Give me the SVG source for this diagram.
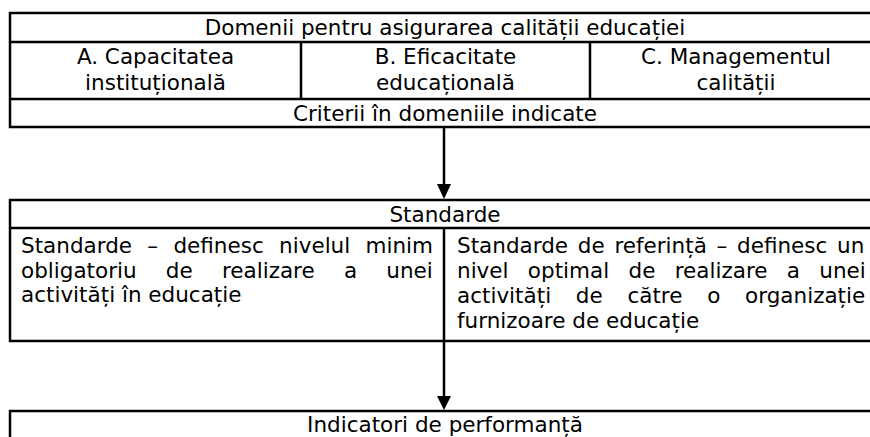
<svg xmlns="http://www.w3.org/2000/svg" width="870" height="437" viewBox="0 0 870 437">
<style>
.t{font-family:"DejaVu Sans",sans-serif;font-size:21.5px;fill:#000}
.c{text-anchor:middle}
.b{fill:none;stroke:#000;stroke-width:2.5}
</style>
<rect width="870" height="437" fill="#fff"/>
<g id="domenii">
<rect class="b" x="10" y="13" width="872" height="114"/>
<line class="b" x1="10" y1="42" x2="882" y2="42"/>
<line class="b" x1="10" y1="99" x2="882" y2="99"/>
<line class="b" x1="301" y1="42" x2="301" y2="99"/>
<line class="b" x1="590" y1="42" x2="590" y2="99"/>
<text class="t c" x="445" y="35">Domenii pentru asigurarea calității educației</text>
<text class="t c" x="155.5" y="64">A. Capacitatea</text>
<text class="t c" x="155.5" y="90">instituțională</text>
<text class="t c" x="445.5" y="64">B. Eficacitate</text>
<text class="t c" x="445.5" y="90">educațională</text>
<text class="t c" x="736" y="64">C. Managementul</text>
<text class="t c" x="736" y="90">calității</text>
<text class="t c" x="445" y="121">Criterii în domeniile indicate</text>
</g>
<g id="standarde">
<rect class="b" x="10" y="200" width="872" height="141"/>
<line class="b" x1="10" y1="228" x2="882" y2="228"/>
<line class="b" x1="444" y1="228" x2="444" y2="341"/>
<text class="t c" x="445" y="222">Standarde</text>
<text class="t" x="21" y="253" word-spacing="8.5">Standarde – definesc nivelul minim</text>
<text class="t" x="21" y="278" word-spacing="22.4">obligatoriu de realizare a unei</text>
<text class="t" x="21" y="302">activități în educație</text>
<text class="t" x="457" y="253" word-spacing="2.9">Standarde de referință – definesc un</text>
<text class="t" x="457" y="278" word-spacing="12.5">nivel optimal de realizare a unei</text>
<text class="t" x="457" y="303" word-spacing="17.9">activități de către o organizație</text>
<text class="t" x="457" y="328">furnizoare de educație</text>
</g>
<g id="indicatori">
<rect class="b" x="10" y="411" width="872" height="40"/>
<text class="t c" x="445" y="432">Indicatori de performanță</text>
</g>
<g id="connectors">
<line class="b" x1="444" y1="127" x2="444" y2="186"/>
<polygon points="437,184 451,184 444,199"/>
<line class="b" x1="444" y1="341" x2="444" y2="398"/>
<polygon points="437,396 451,396 444,410"/>
</g>
</svg>
